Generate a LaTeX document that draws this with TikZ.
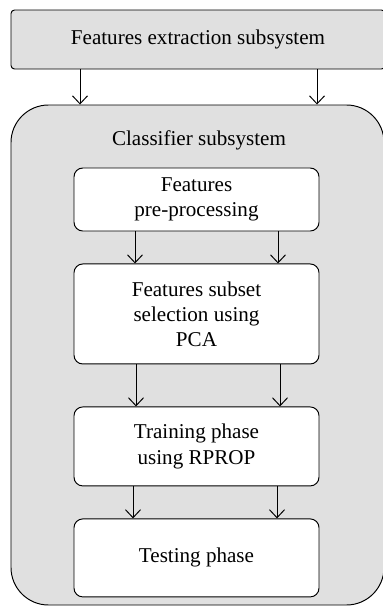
\documentclass[tikz,border=0pt]{standalone}
\usepackage{fontspec}
\setmainfont{Liberation Serif}
\usepackage{xcolor}
\usetikzlibrary{positioning, arrows.meta}
\definecolor{boxgray}{HTML}{E0E0E0}

\begin{document}
\begin{tikzpicture}[font=\fontsize{12}{14.3}\selectfont, line width=0.55pt,
    stage/.style={draw, fill=white, rounded corners=5pt, minimum width=4.9cm, align=center},
    arr/.style={-{Straight Barb[length=1.6mm, width=3mm]}}]
  \useasboundingbox (0,0) rectangle (7.66,-12.12);
  \node[draw, fill=boxgray, rounded corners=2pt, minimum width=7.48cm, minimum height=1.18cm] (feat)
    at (3.96,-0.79) {Features extraction subsystem};
  \node[draw, fill=boxgray, rounded corners=0.75cm, minimum width=7.46cm, minimum height=10cm] (clf)
    at (3.95,-7.1) {};
  \node (clftitle) at (3.98,-2.8) {Classifier subsystem};
  \node[stage, minimum height=1.26cm] (prep) at (3.93,-3.99) {Features\\ pre-processing};
  \node[stage, minimum height=2cm, below=0.64cm of prep] (pca) {Features subset\\ selection using\\ PCA};
  \node[stage, minimum height=1.58cm, below=0.84cm of pca] (train) {Training phase\\ using RPROP};
  \node[stage, minimum height=1.56cm, below=0.64cm of train] (test) {Testing phase};
  \draw[arr] (feat.south -| 1.6,0) -- (clf.north -| 1.6,0);
  \draw[arr] (feat.south -| 6.34,0) -- (clf.north -| 6.34,0);
  \draw[arr] (prep.south -| 2.7,0) -- (pca.north -| 2.7,0);
  \draw[arr] (prep.south -| 5.56,0) -- (pca.north -| 5.56,0);
  \draw[arr] (pca.south -| 2.72,0) -- (train.north -| 2.72,0);
  \draw[arr] (pca.south -| 5.6,0) -- (train.north -| 5.6,0);
  \draw[arr] (train.south -| 2.66,0) -- (test.north -| 2.66,0);
  \draw[arr] (train.south -| 5.54,0) -- (test.north -| 5.54,0);
\end{tikzpicture}
\end{document}
